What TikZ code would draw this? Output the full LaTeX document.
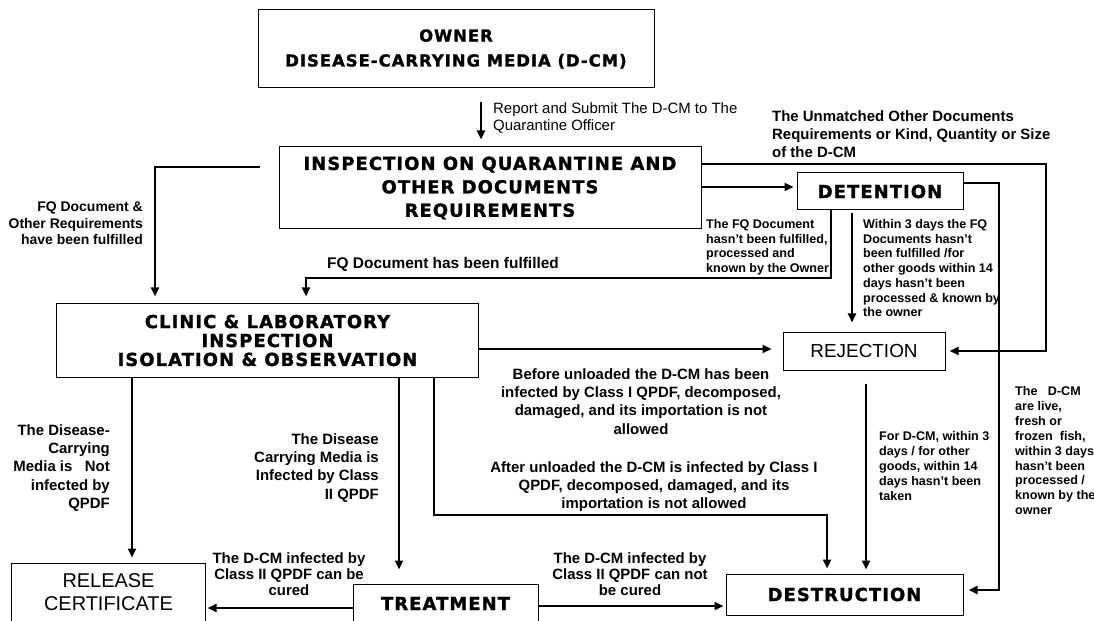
\documentclass[tikz,border=0pt]{standalone}
\usepackage{fontspec}
\setmainfont{Liberation Sans}
\newfontfamily\titlefont[LetterSpace=6, BoldFeatures={FakeBold=1.4}]{DejaVu Sans}
\usetikzlibrary{arrows.meta}

\begin{document}
\begin{tikzpicture}[x=1bp,y=-1bp,
  box/.style={draw, line width=1bp, inner sep=0pt, align=center},
  ttl/.style={font=\titlefont\bfseries\fontsize{18}{23.5}\selectfont},
  plainbox/.style={font=\fontsize{19}{23}\selectfont},
  conn/.style={line width=2.8bp},
  arr/.style={conn, -{Triangle[length=9bp,width=8bp]}},
  lbl/.style={inner sep=0pt, font=\bfseries\fontsize{15}{18.5}\selectfont},
  lblb/.style={inner sep=0pt, font=\bfseries\fontsize{15}{16.5}\selectfont},
  sml/.style={inner sep=0pt, align=left, anchor=north west, font=\bfseries\fontsize{12.6}{14.8}\selectfont},
]
\useasboundingbox (0,0) rectangle (1094,621);
\fill[white] (0,0) rectangle (1094,621);

% ---- boxes ----
\node[box, ttl, font=\titlefont\bfseries\fontsize{16.5}{25}\selectfont,
      minimum width=396bp, minimum height=78bp] (owner) at (456,49)
  {OWNER\\DISEASE-CARRYING MEDIA (D-CM)};
\node[box, ttl, minimum width=422bp, minimum height=82bp] (inspection) at (490,188)
  {INSPECTION ON QUARANTINE AND\\OTHER DOCUMENTS\\REQUIREMENTS};
\node[box, ttl, minimum width=166bp, minimum height=37bp] (detention) at (880,191.5)
  {DETENTION};
\node[box, ttl, font=\titlefont\bfseries\fontsize{18}{19}\selectfont,
      minimum width=421bp, minimum height=73bp] (clinic) at (267.5,340.5)
  {CLINIC \& LABORATORY\\INSPECTION\\ISOLATION \& OBSERVATION};
\node[box, plainbox, minimum width=162bp, minimum height=38bp] (rejection) at (864,351)
  {REJECTION};
\node[box, font=\fontsize{20}{23}\selectfont, minimum width=193bp, minimum height=59bp]
  (release) at (108.5,592.5) {RELEASE\\CERTIFICATE};
\node[box, ttl, minimum width=185bp, minimum height=39bp] (treatment) at (445.5,603.5)
  {TREATMENT};
\node[box, ttl, minimum width=237bp, minimum height=41bp] (destruction) at (844.5,594.5)
  {DESTRUCTION};

% ---- bend points of the connectors ----
\coordinate (k1) at (155,167);
\coordinate (k3) at (0,187);
\coordinate (k4) at (1046,164);
\coordinate (k5) at (831,278);
\coordinate (k5b) at (306,278);
\coordinate (k6) at (852,0);
\coordinate (k7) at (999,183);
\coordinate (k7b) at (999,590);
\coordinate (k8) at (0,349);
\coordinate (k9) at (132,0);
\coordinate (k10) at (399,0);
\coordinate (k11) at (434,515);
\coordinate (k11b) at (827,515);
\coordinate (k12) at (866,0);
\coordinate (k13) at (0,608);
\coordinate (k14) at (0,606);

% ---- connectors ----
\draw[arr, shorten <=14bp, shorten >=7bp]
  ([xshift=25bp]owner.south) -- ([xshift=25bp]owner.south |- inspection.north);
\draw[arr, shorten <=19bp, shorten >=7bp]
  (inspection.west |- k1) -- (k1) -- (k1 |- clinic.north);
\draw[arr, shorten >=3bp] (inspection.east |- k3) -- (detention.west |- k3);
\draw[arr, shorten >=4bp]
  (inspection.east |- k4) -- (k4) -- (k4 |- rejection.east) -- (rejection.east);
\draw[arr, shorten >=7bp]
  (detention.south -| k5) -- (k5) -- (k5b) -- (k5b |- clinic.north);
\draw[arr, shorten <=3bp, shorten >=9bp] (detention.south -| k6) -- (rejection.north -| k6);
\draw[arr, shorten >=5bp]
  (detention.east |- k7) -- (k7) -- (k7b) -- (destruction.east |- k7b);
\draw[arr, shorten >=11bp] (clinic.east |- k8) -- (rejection.west |- k8);
\draw[arr, shorten >=5bp] (clinic.south -| k9) -- (release.north -| k9);
\draw[arr, shorten >=14bp] (clinic.south -| k10) -- (treatment.north -| k10);
\draw[arr, shorten >=5bp]
  (clinic.south -| k11) -- (k11) -- (k11b) -- (k11b |- destruction.north);
\draw[arr, shorten <=13bp, shorten >=4bp] (rejection.south -| k12) -- (destruction.north -| k12);
\draw[arr, shorten >=2bp] (treatment.west |- k13) -- (release.east |- k13);
\draw[arr, shorten >=2bp] (treatment.east |- k14) -- (destruction.west |- k14);

% ---- labels ----
\node[inner sep=0pt, anchor=north west, align=left, font=\fontsize{15}{18}\selectfont]
  (lreport) at (493,102) {Report and Submit The D-CM to The\\Quarantine Officer};
\node[lbl, anchor=north west, align=left] (lunmatched) at (772,110)
  {The Unmatched Other Documents\\Requirements or Kind, Quantity or Size\\of the D-CM};
\node[inner sep=0pt, anchor=north east, align=right, font=\bfseries\fontsize{14}{16.5}\selectfont]
  (lfqother) at (143,202) {FQ Document \&\\Other Requirements\\have been fulfilled};
\node[inner sep=0pt, anchor=north west, font=\bfseries\fontsize{15.5}{18}\selectfont]
  (lfq) at (327,257) {FQ Document has been fulfilled};
\node[sml] (lnotfq) at (706,219)
  {The FQ Document\\hasn't been fulfilled,\\processed and\\known by the Owner};
\node[sml] (lwithin) at (863,219)
  {Within 3 days the FQ\\Documents hasn't\\been fulfilled /for\\other goods within 14\\days hasn't been\\processed \& known by\\the owner};
\node[lbl, anchor=north, align=center] (lbefore) at (641,368)
  {Before unloaded the D-CM has been\\infected by Class I QPDF, decomposed,\\damaged, and its importation is not\\allowed};
\node[lbl, anchor=north, align=center] (lafter) at (654,461)
  {After unloaded the D-CM is infected by Class I\\QPDF, decomposed, damaged, and its\\importation is not allowed};
\node[sml, font=\bfseries\fontsize{12.6}{15}\selectfont] (lford) at (879,431)
  {For D-CM, within 3\\days / for other\\goods, within 14\\days hasn't been\\taken};
\node[sml, font=\bfseries\fontsize{12.6}{15}\selectfont] (llive) at (1015,386)
  {The\ \ \ D-CM\\are live,\\fresh or\\frozen\ \ fish,\\within 3 days\\hasn't been\\processed /\\known by the\\owner};
\node[lbl, anchor=north east, align=right] (lnotinf) at (110,424)
  {The Disease-\\Carrying\\Media is\ \ \ Not\\infected by\\QPDF};
\node[lbl, anchor=north east, align=right] (linf) at (379,433)
  {The Disease\\Carrying Media is\\Infected by Class\\II QPDF};
\node[lblb, anchor=north, align=center] (lcured) at (289,552)
  {The D-CM infected by\\Class II QPDF can be\\cured};
\node[lblb, anchor=north, align=center] (lnotcured) at (630,552)
  {The D-CM infected by\\Class II QPDF can not\\be cured};
\end{tikzpicture}
\end{document}
